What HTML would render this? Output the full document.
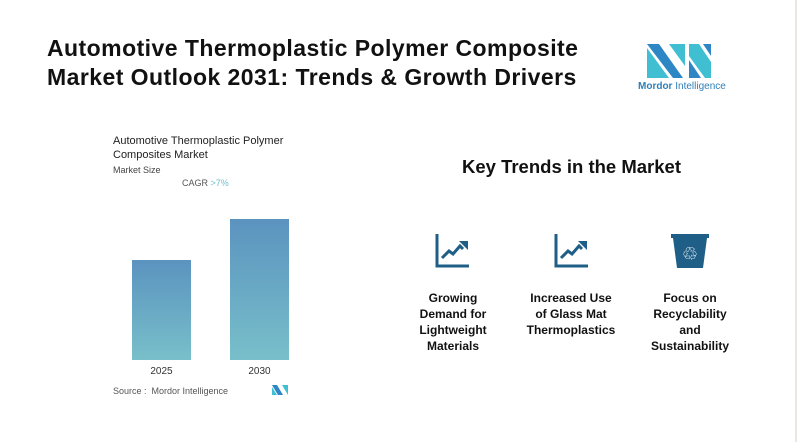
<!DOCTYPE html>
<html><head><meta charset="utf-8"><style>
body{margin:0;width:800px;height:442px;background:#fff;font-family:"Liberation Sans",sans-serif;position:relative;overflow:hidden}
.a{position:absolute}
h1{position:absolute;left:47px;top:34px;margin:0;font-size:23px;line-height:29px;font-weight:bold;color:#111;letter-spacing:0.45px}
.t{font-size:12px;font-weight:bold;color:#111;text-align:center;line-height:16px;width:130px}
</style></head><body>
<div class="a" style="left:795px;top:0;width:2px;height:442px;background:#ece6e0"></div>
<h1>Automotive Thermoplastic Polymer Composite<br>Market Outlook 2031: Trends &amp; Growth Drivers</h1>
<svg class="a" style="left:645px;top:44px" width="70" height="36" viewBox="0 0 70 36">
<polygon points="2,0 14,0 38,34 28,34 2,0" fill="#2f86c4"/><polygon points="2,4 24,34 2,34" fill="#40bfd2"/>
<polygon points="24,0 40,0 40,22" fill="#40bfd2"/><polygon points="44,0 54,0 66,18 66,34 60,34 44,12" fill="#40bfd2"/>
<polygon points="44,16 56,34 44,34" fill="#2f86c4"/><polygon points="58,0 66,0 66,12" fill="#2f86c4"/></svg>
<div class="a" style="left:638px;top:81px;font-size:10px;color:#2f7fb8"><b>Mordor</b> Intelligence</div>
<div class="a" style="left:113px;top:134px;font-size:11px;line-height:14px;color:#222">Automotive Thermoplastic Polymer<br>Composites Market</div>
<div class="a" style="left:113px;top:165px;font-size:9px;color:#444">Market Size</div>
<div class="a" style="left:182px;top:178px;font-size:9px;color:#555">CAGR <span style="color:#6fc0cc">&gt;7%</span></div>
<svg class="a" id="chart" style="left:100px;top:200px" width="220" height="180">
<defs><linearGradient id="g" x1="0" y1="0" x2="0" y2="1"><stop offset="0" stop-color="#5b93bf"/><stop offset="1" stop-color="#78bfca"/></linearGradient></defs></svg>
<div class="a" style="left:113px;top:386px;font-size:9px;color:#555">Source : &nbsp;Mordor Intelligence</div>
<svg class="a" style="left:272px;top:385px" width="16" height="10"><polygon points="0,0 5,0 11,10 6,10" fill="#2f86c4"/><polygon points="0,2 5,10 0,10" fill="#40bfd2"/><polygon points="10,0 16,0 16,10" fill="#40bfd2"/></svg>
<div class="a" style="left:462px;top:156px;font-size:18.5px;font-weight:bold;color:#111">Key Trends in the Market</div>
<svg class="a" style="left:435px;top:234px" width="36" height="34"><path d="M2 0V32H34" stroke="#1f5f87" stroke-width="3" fill="none"/><path d="M7 24L14 17 18 20 25 12 28 15" stroke="#1f5f87" stroke-width="3" fill="none"/><polygon points="24,7 33,7 33,16" fill="#1f5f87"/></svg>
<svg class="a" style="left:554px;top:234px" width="36" height="34"><path d="M2 0V32H34" stroke="#1f5f87" stroke-width="3" fill="none"/><path d="M7 24L14 17 18 20 25 12 28 15" stroke="#1f5f87" stroke-width="3" fill="none"/><polygon points="24,7 33,7 33,16" fill="#1f5f87"/></svg>
<svg class="a" style="left:671px;top:234px" width="38" height="36"><rect x="0" y="0" width="38" height="4" fill="#1f5f87"/><polygon points="2,4 36,4 32,34 6,34" fill="#1f5f87"/><text x="19" y="26" font-size="18" fill="#fff" text-anchor="middle">♲</text></svg>
<div class="a t" style="left:388px;top:290px">Growing<br>Demand for<br>Lightweight<br>Materials</div>
<div class="a t" style="left:506px;top:290px">Increased Use<br>of Glass Mat<br>Thermoplastics</div>
<div class="a t" style="left:625px;top:290px">Focus on<br>Recyclability<br>and<br>Sustainability</div>
<script>
const categories=["2025","2030"];
const values=[100,141];
const svg=document.getElementById('chart');
const NS="http://www.w3.org/2000/svg";
const base=160,scale=1.0;
const xPos=i=>32+i*98;
categories.forEach((c,i)=>{
 const h=values[i]*scale;
 const r=document.createElementNS(NS,'rect');
 
 
 r.setAttribute('x',xPos(i));r.setAttribute('y',base-h);r.setAttribute('width',59);r.setAttribute('height',h);r.setAttribute('fill','url(#g)');
 svg.appendChild(r);
 const t=document.createElementNS(NS,'text');
 
 
 t.setAttribute('x',xPos(i)+29.5);t.setAttribute('y',base+14);t.setAttribute('text-anchor','middle');t.setAttribute('font-size','10');t.setAttribute('fill','#333');
 t.textContent=c;svg.appendChild(t);
});
</script>
</body></html>
